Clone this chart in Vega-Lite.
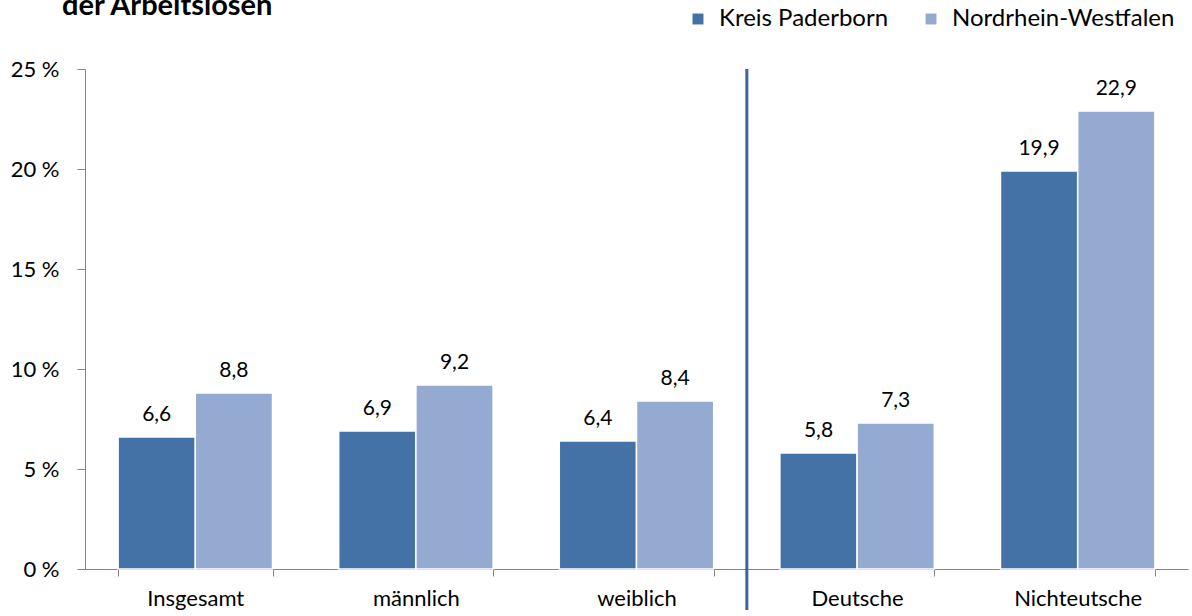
{
  "$schema": "https://vega.github.io/schema/vega-lite/v6.json",
  "autosize": {"type": "none"},
  "width": 1103,
  "height": 500,
  "padding": {"left": 85, "top": 69, "right": 4, "bottom": 47},
  "config": {
    "locale": {"number": {"decimal": ",", "thousands": ".", "grouping": [3], "currency": ["", " €"]}},
    "font": "Lato",
    "view": {"stroke": null}
  },
  "title": {
    "text": "der Arbeitslosen",
    "anchor": "start",
    "frame": "group",
    "dx": -23,
    "offset": -37,
    "baseline": "alphabetic",
    "fontSize": 29,
    "fontWeight": "bold",
    "font": "Lato",
    "color": "#000000"
  },
  "datasets": {
    "bars": [
      {"gruppe": "Insgesamt", "region": "Kreis Paderborn", "quote": 6.6},
      {"gruppe": "Insgesamt", "region": "Nordrhein-Westfalen", "quote": 8.8},
      {"gruppe": "männlich", "region": "Kreis Paderborn", "quote": 6.9},
      {"gruppe": "männlich", "region": "Nordrhein-Westfalen", "quote": 9.2},
      {"gruppe": "weiblich", "region": "Kreis Paderborn", "quote": 6.4},
      {"gruppe": "weiblich", "region": "Nordrhein-Westfalen", "quote": 8.4},
      {"gruppe": "Deutsche", "region": "Kreis Paderborn", "quote": 5.8},
      {"gruppe": "Deutsche", "region": "Nordrhein-Westfalen", "quote": 7.3},
      {"gruppe": "Nichteutsche", "region": "Kreis Paderborn", "quote": 19.9},
      {"gruppe": "Nichteutsche", "region": "Nordrhein-Westfalen", "quote": 22.9}
    ],
    "trenner": [
      {"gruppe": "Deutsche", "oben": 25, "unten": -2.05}
    ]
  },
  "layer": [
    {
      "data": {"name": "bars"},
      "mark": {"type": "bar", "stroke": "#ffffff", "strokeWidth": 1.5},
      "encoding": {
        "x": {
          "field": "gruppe", "type": "nominal", "sort": null, "title": null,
          "scale": {"paddingInner": 0.3, "paddingOuter": 0.15},
          "axis": {
            "labelAngle": 0, "labelFontSize": 22, "labelColor": "#000000", "labelFont": "Lato",
            "domainColor": "#868686", "tickColor": "#868686", "tickSize": 7, "tickBand": "extent",
            "labelPadding": 12
          }
        },
        "xOffset": {"field": "region", "type": "nominal", "sort": ["Kreis Paderborn", "Nordrhein-Westfalen"]},
        "y": {
          "field": "quote", "type": "quantitative", "title": null,
          "scale": {"domain": [0, 25], "nice": false},
          "axis": {
            "values": [0, 5, 10, 15, 20, 25], "grid": false,
            "labelExpr": "format(datum.value, 'd') + ' %'",
            "labelFontSize": 22, "labelColor": "#000000", "labelFont": "Lato",
            "domainColor": "#868686", "tickColor": "#868686", "tickSize": 8, "labelPadding": 18
          }
        },
        "color": {
          "field": "region", "type": "nominal",
          "scale": {"domain": ["Kreis Paderborn", "Nordrhein-Westfalen"], "range": ["#4471A6", "#95AAD0"]},
          "legend": {
            "title": null, "orient": "none", "direction": "horizontal",
            "legendX": 601, "legendY": -62, "padding": 0,
            "symbolType": "square", "symbolSize": 120, "symbolStrokeWidth": 0,
            "labelFontSize": 24, "labelFont": "Lato", "labelColor": "#000000", "labelLimit": 400,
            "columnPadding": 30, "labelOffset": 9
          }
        }
      }
    },
    {
      "data": {"name": "bars"},
      "mark": {"type": "text", "dy": -22, "fontSize": 21, "color": "#000000", "font": "Lato"},
      "encoding": {
        "x": {"field": "gruppe", "type": "nominal", "sort": null},
        "xOffset": {"field": "region", "type": "nominal", "sort": ["Kreis Paderborn", "Nordrhein-Westfalen"]},
        "y": {"field": "quote", "type": "quantitative"},
        "text": {"field": "quote", "type": "quantitative", "format": ".1f"}
      }
    },
    {
      "data": {"name": "trenner"},
      "mark": {"type": "rule", "color": "#3B64A0", "strokeWidth": 3},
      "encoding": {
        "x": {"field": "gruppe", "type": "nominal", "sort": null, "bandPosition": -0.214},
        "y": {"field": "oben", "type": "quantitative"},
        "y2": {"field": "unten"}
      }
    }
  ]
}
